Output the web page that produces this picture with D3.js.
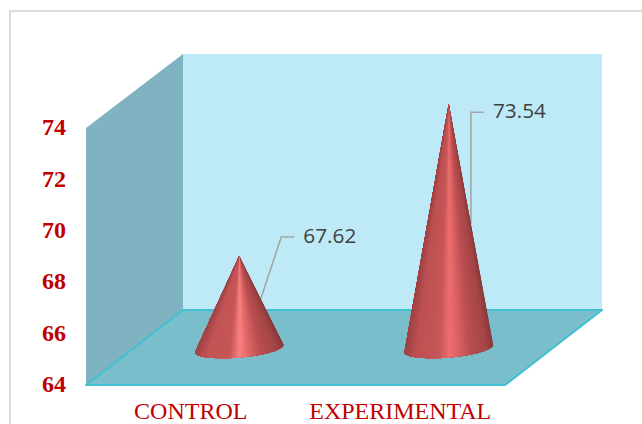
<!DOCTYPE html>
<html><head><meta charset="utf-8">
<style>html,body{margin:0;padding:0;background:#fff;overflow:hidden}svg{display:block}</style>
<script src="https://cdn.jsdelivr.net/npm/d3@7/dist/d3.min.js"></script>
</head><body><svg id="c" width="642" height="424"></svg>
<script>
const categories = ["CONTROL", "EXPERIMENTAL"];
const values = [67.62, 73.54];
const labels = ["67.62", "73.54"];
const yTicks = [64, 66, 68, 70, 72, 74];

const svg = d3.select("#c");
const W = 642, H = 424;
const frontL = 86, frontR = 505, frontB = 385, front74 = 128;
const depthX = 97, depthY = 75;
const y = d3.scaleLinear().domain([64, 74]).range([frontB, front74]);
const x = d3.scaleBand().domain(categories).range([frontL, frontR]);
const topY = y(74) - 74;

svg.append("path").attr("d", `M10,${H}V11H${W}`)
  .attr("fill", "none").attr("stroke", "#dcdcdc").attr("stroke-width", 2);

const poly = pts => "M" + pts.map(p => p.join(",")).join("L") + "Z";
svg.append("path").attr("d", poly([[frontL, front74], [frontL + depthX, topY], [frontL + depthX, frontB - depthY], [frontL, frontB]]))
  .attr("fill", "#80b3c1");
svg.append("path").attr("d", poly([[frontL + depthX, topY], [frontR + depthX, topY], [frontR + depthX, frontB - depthY], [frontL + depthX, frontB - depthY]]))
  .attr("fill", "#bdeaf6");
svg.append("path").attr("d", poly([[frontL, frontB], [frontL + depthX, frontB - depthY], [frontR + depthX, frontB - depthY], [frontR, frontB]]))
  .attr("fill", "#7abdcb").attr("stroke", "#3fc1d3").attr("stroke-width", 2).attr("stroke-linejoin", "round");

const shadeStops = [0, .12, .38, .5, .58, .74, .92, 1];
const shades = [
  ["#a04446", "#c25355", "#c65658", "#fb8282", "#e56a6a", "#b94e50", "#a54547", "#8a3a3c"],
  ["#a04244", "#bd5052", "#c65658", "#ee6e6e", "#e06466", "#b94e50", "#a54547", "#8a3a3c"]
];

const coneDx = depthX / 2, coneDy = 36, baseDy = 36.5, rx = 44.5, ry = 9, tilt = -5 * Math.PI / 180;
const leaderFrac = [0.485, 0.5];
const leaderRun = [[20.5, 62], [0, 112]];
const slices = 64;
categories.forEach((c, i) => {
  const cx = x(c) + x.bandwidth() / 2 + coneDx;
  const ax = cx, ay = y(values[i]) - coneDy, by = y(64) - baseDy;
  const pt = t => {
    const px = rx * Math.cos(t), py = ry * Math.sin(t);
    return [cx + px * Math.cos(tilt) - py * Math.sin(tilt), by + px * Math.sin(tilt) + py * Math.cos(tilt)];
  };
  const right = pt(0);
  const ex = ax + (right[0] - ax) * leaderFrac[i], ey = ay + (right[1] - ay) * leaderFrac[i];
  const elbowX = ex + leaderRun[i][0], elbowY = ey - leaderRun[i][1];
  svg.append("path").attr("d", `M${ex},${ey}L${elbowX},${elbowY}H${elbowX + 13}`)
    .attr("fill", "none").attr("stroke", "#a6a6a6").attr("stroke-width", 1.6);
  const shade = d3.scaleLinear().domain(shadeStops).range(shades[i]);
  const g = svg.append("g");
  // each slice repaints everything still to its left, so no seams are left between neighbours
  d3.range(slices).forEach(k => {
    const t0 = Math.PI * k / slices, tm = Math.PI * (k + 0.5) / slices;
    const arc = d3.range(k, slices + 1).map(j => pt(Math.PI * j / slices));
    g.append("path").attr("d", poly([[ax, ay], ...arc]))
      .attr("fill", shade((1 - Math.cos(tm)) / 2 === 0 ? 0 : (1 + Math.cos(tm)) / 2));
  });
  svg.append("text").attr("x", elbowX + 22).attr("y", elbowY + 0.5).attr("dominant-baseline", "middle")
    .attr("font-family", "Open Sans").attr("font-size", 20.8).attr("fill", "#404040").text(labels[i]);
});

const serif = "'Liberation Serif'";
const yAxis = svg.append("g").attr("transform", "translate(66,-1)").call(d3.axisLeft(y).tickValues(yTicks).tickSize(0).tickPadding(0));
yAxis.select(".domain").remove();
yAxis.selectAll("text").attr("font-family", serif).attr("font-weight", "bold").attr("font-size", 24).attr("fill", "#c00000");
const xAxis = svg.append("g").attr("transform", `translate(0,${frontB})`).call(d3.axisBottom(x).tickSize(0).tickPadding(0));
xAxis.select(".domain").remove();
xAxis.selectAll("text").attr("dy", 0).attr("y", 34).attr("font-family", serif).attr("font-size", 24).attr("fill", "#c00000");
</script></body></html>
